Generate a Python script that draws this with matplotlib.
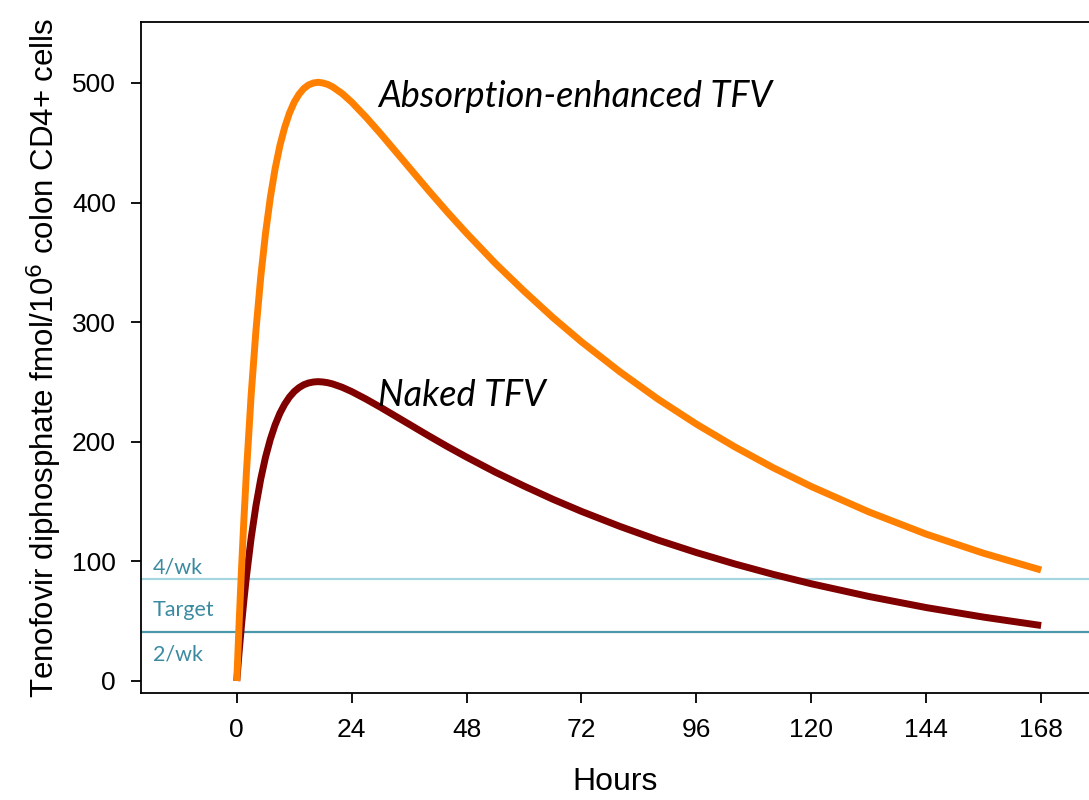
import matplotlib
matplotlib.use("Agg")
import matplotlib.pyplot as plt

# hours after dose
hours = [0, 0.5, 1, 1.5, 2, 3, 4, 5, 6, 7, 8, 9, 10, 11, 12, 13, 14, 15, 16,
         17, 18, 19, 20, 22, 24, 27, 30, 33, 36, 40, 44, 48, 54, 60, 66, 72,
         80, 88, 96, 104, 112, 120, 132, 144, 156, 168]

# TFV-DP, fmol per 10^6 colon CD4+ cells
naked_tfv = [0, 24.8, 47.4, 68.0, 86.8, 119.5, 146.5, 168.8, 187.1, 202.0,
             214.1, 223.8, 231.4, 237.4, 242.0, 245.3, 247.7, 249.2, 250.0,
             250.3, 250.0, 249.4, 248.4, 245.6, 242.0, 235.7, 228.9, 221.8,
             214.7, 205.2, 196.0, 187.2, 174.6, 163.0, 152.0, 141.8, 129.3,
             117.8, 107.4, 97.9, 89.2, 81.3, 70.7, 61.4, 53.4, 46.4]

enhanced_tfv = [0, 49.6, 94.8, 136.0, 173.6, 239.0, 293.0, 337.6, 374.2,
                404.0, 428.2, 447.6, 462.8, 474.8, 484.0, 490.6, 495.4, 498.4,
                500.0, 500.6, 500.0, 498.8, 496.8, 491.2, 484.0, 471.4, 457.8,
                443.6, 429.4, 410.4, 392.0, 374.4, 349.2, 326.0, 304.0, 283.6,
                258.6, 235.6, 214.8, 195.8, 178.4, 162.6, 141.4, 122.8, 106.8,
                92.8]

# dosing thresholds
level_4wk = 85
level_2wk = 41

x_ticks = [0, 24, 48, 72, 96, 120, 144, 168]
y_ticks = [0, 100, 200, 300, 400, 500]

plt.rcParams['font.family'] = ['Liberation Sans', 'DejaVu Sans']

fig = plt.figure(figsize=(10.89, 8), dpi=100)
ax = fig.add_axes([0.1295, 0.1338, 0.8705, 0.8387])

teal_light = '#a5d6e0'
teal_dark = '#4a99ab'
teal_text = '#3b8aa0'

ax.axhline(level_4wk, color=teal_light, lw=1.6, zorder=1)
ax.axhline(level_2wk, color=teal_dark, lw=1.6, zorder=1)

ax.plot(hours, naked_tfv, color='#800000', lw=5, solid_capstyle='butt', zorder=2)
ax.plot(hours, enhanced_tfv, color='#ff8000', lw=5, solid_capstyle='butt', zorder=3)

label_font = ['Lato', 'DejaVu Sans']
ax.text(-17.6, 95, '4/wk', color=teal_text, fontsize=15.5, family=label_font, va='center')
ax.text(-17.6, 59, 'Target', color=teal_text, fontsize=15.5, family=label_font, va='center')
ax.text(-17.6, 22, '2/wk', color=teal_text, fontsize=15.5, family=label_font, va='center')

ax.text(29.5, 489, 'Absorption-enhanced TFV', fontsize=26, style='italic',
        family=label_font, va='center')
ax.text(29.5, 239, 'Naked TFV', fontsize=26, style='italic',
        family=label_font, va='center')

ax.set_xlim(-20, 178)
ax.set_ylim(-10, 551)
ax.set_xticks(x_ticks)
ax.set_yticks(y_ticks)
ax.tick_params(direction='out', length=7, width=1.3, labelsize=19, pad=11)
for side in ['left', 'bottom', 'top']:
    ax.spines[side].set_linewidth(1.3)
ax.spines['right'].set_visible(False)

ax.set_xlabel('Hours', fontsize=23, labelpad=18)
ax.set_ylabel('Tenofovir diphosphate fmol/10$^6$ colon CD4+ cells', fontsize=22.5, labelpad=6)

fig.savefig('out.png', dpi=100)
